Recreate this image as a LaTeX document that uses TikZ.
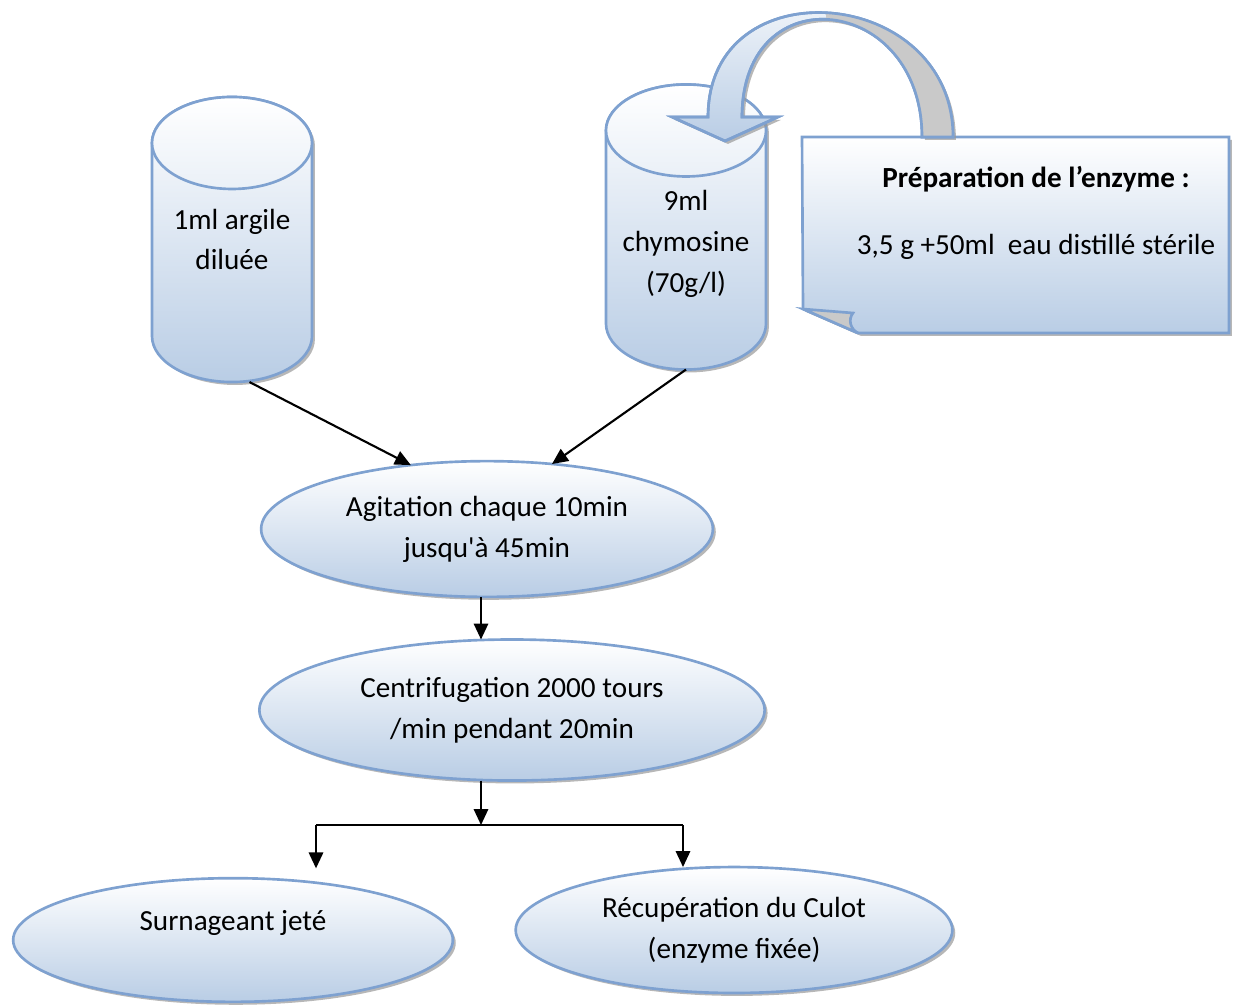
\documentclass[tikz,border=0pt]{standalone}
\usepackage{fontspec}
\setmainfont{Carlito}
\usetikzlibrary{arrows.meta,positioning,calc,shapes.geometric,shadows,backgrounds}
\definecolor{wdline}{HTML}{7EA1D0}
\definecolor{wdfill}{HTML}{B9CDE5}
\definecolor{wdgrey}{HTML}{C9C9C9}
\tikzset{
  wdshade/.style  ={top color=white, bottom color=wdfill, draw=wdline, line width=1pt,
                    drop shadow={shadow xshift=1.1pt, shadow yshift=-1.1pt,
                                 fill=black!40, opacity=.7}},
  wdoval/.style   ={ellipse, wdshade, inner sep=0pt, outer sep=0pt, align=center},
  wdtubebox/.style={rectangle, minimum width=2.122cm, minimum height=3.78cm,
                    inner sep=0pt, outer sep=0pt},
  wdlabel/.style  ={align=center, inner sep=0pt},
  wdflow/.style   ={-{Triangle[length=6pt,width=5.4pt]}, line width=0.8pt, draw=black},
}
% cylinder drawn round a wdtubebox node
\newcommand{\wdtube}[1]{%
  \path[wdshade] ($(#1.north west)+(0cm,-0.61cm)$) -- ($(#1.south west)+(0cm,0.61cm)$)
    arc[start angle=180, end angle=360, x radius=1.061cm, y radius=0.61cm]
    -- ($(#1.north east)+(0cm,-0.61cm)$)
    arc[start angle=0, end angle=180, x radius=1.061cm, y radius=0.61cm] -- cycle;
  \draw[wdline, line width=1pt, top color=white, bottom color=wdfill!30]
    ($(#1.north)+(0cm,-0.61cm)$) ellipse[x radius=1.061cm, y radius=0.61cm];}

\begin{document}
\begin{tikzpicture}[x=0.01326cm, y=0.01326cm, font=\fontsize{11pt}{15.4pt}\selectfont]
  \useasboundingbox (0,0) rectangle (1237,-1004);

  % the two tubes
  \node[wdtubebox, label={[wdlabel]center:{1ml argile\\diluée}}] (argile) at (232,-239.5) {};
  \node[wdtubebox, label={[wdlabel, yshift=-0.225cm]center:{9ml\\chymosine\\(70g/l)}}]
       (chymo) at (686,-227) {};
  \begin{scope}[on background layer]
    \wdtube{argile}
    \wdtube{chymo}
  \end{scope}

  % enzyme sheet
  \path[wdshade] (802,-137) -- (1229,-137) -- (1229,-333) -- (858,-333) -- (803,-309) -- cycle;
  \filldraw[fill=wdgrey, draw=wdline, line width=1pt]
       (803,-309) -- (853,-313) .. controls (848,-319) and (850,-329) .. (858,-333) -- cycle;
  \node[wdlabel] (prep) at (1036,-213)
       {\textbf{Préparation de l’enzyme :}\\[9.9pt]3,5 g +50ml~ eau distillé stérile};

  % bent arrow from the sheet into the tube
  \path[wdshade, save path=\wdbend] (953,-137) .. controls (953,15) and (708,35) .. (708,-117)
       -- (672,-117) -- (725,-141) -- (778,-117) -- (742,-117)
       .. controls (742,26) and (922,6) .. (922,-137) -- cycle;
  \begin{scope}
    \clip (826,0) rectangle (1000,-140);
    \fill[wdgrey, use path=\wdbend];
  \end{scope}
  \draw[wdline, line width=1pt, use path=\wdbend];

  % steps
  \node[wdoval, minimum width=5.99cm, minimum height=1.80cm] (agit) at (487,-529)
       {Agitation chaque 10min\\jusqu\textquotesingle à 45min};
  \node[wdoval, minimum width=6.70cm, minimum height=1.87cm] (centri) at (512,-710)
       {Centrifugation 2000 tours\\/min pendant 20min};
  \node[wdoval, minimum width=5.83cm, minimum height=1.64cm, text depth=14.5pt] (surn)
       at (233,-940) {Surnageant jeté};
  \node[wdoval, minimum width=5.79cm, minimum height=1.67cm] (culot) at (734,-930)
       {Récupération du Culot\\(enzyme fixée)};

  \coordinate (fork) at (481,-825);
  \coordinate (lsplit) at (316,-825);
  \coordinate (rsplit) at (683,-825);

  \draw[wdflow] (argile.-83) -- (agit.140);
  \draw[wdflow] (chymo.south) -- (agit.45);
  \draw[wdflow] (agit.south -| fork) -- (centri.north -| fork);
  \draw[wdflow] (centri.south -| fork) -- (fork);
  \draw[line width=0.8pt] (lsplit) -- (rsplit);
  \draw[wdflow, shorten >=0.13cm] (lsplit) -- (lsplit |- surn.north);
  \draw[wdflow] (rsplit) -- (rsplit |- culot.north);
\end{tikzpicture}
\end{document}
